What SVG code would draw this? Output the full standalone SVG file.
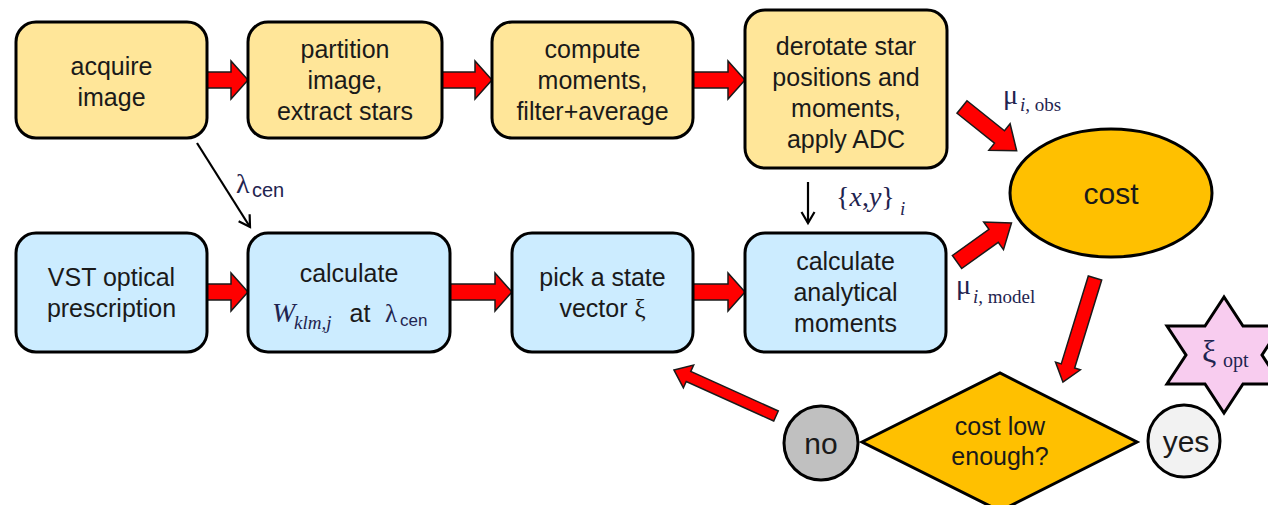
<svg xmlns="http://www.w3.org/2000/svg" width="1268" height="505" viewBox="0 0 1268 505">
<defs>
<marker id="open" markerWidth="16" markerHeight="16" refX="13" refY="8" orient="auto" markerUnits="userSpaceOnUse">
<path d="M2,1.5 L13,8 L2,14.5" fill="none" stroke="#000" stroke-width="2.2"/>
</marker>
</defs>
<style>
.yb{fill:#FFE699;stroke:#000;stroke-width:3}
.bb{fill:#CCECFF;stroke:#000;stroke-width:3}
.t{font-family:"Liberation Sans",Arial,sans-serif;font-size:25px;fill:#1a1a1a;text-anchor:middle}
.big{font-family:"Liberation Sans",Arial,sans-serif;font-size:30px;fill:#1a1a1a;text-anchor:middle}
.m{font-family:"Liberation Serif","Times New Roman",serif;fill:#1f2450}
.ms{font-family:"Liberation Sans",Arial,sans-serif;fill:#1f2450}
.ra{fill:#FF0000;stroke:#1a1a1a;stroke-width:1.5;stroke-linejoin:miter}
.th{stroke:#000;stroke-width:2.2;fill:none}
</style>
<rect width="1268" height="505" fill="#fff"/>

<g id="connectors">
<polygon class="ra" points="207,72 231,72 231,61 248,80 231,99 231,88 207,88"/>
<polygon class="ra" points="442,72 475,72 475,61 492,80 475,99 475,88 442,88"/>
<polygon class="ra" points="693,72 728,72 728,61 745,80 728,99 728,88 693,88"/>
<polygon class="ra" points="207,284 231,284 231,273 248,292 231,311 231,300 207,300"/>
<polygon class="ra" points="450,284 495,284 495,273 512,292 495,311 495,300 450,300"/>
<polygon class="ra" points="693,284 728,284 728,273 745,292 728,311 728,300 693,300"/>
<polygon class="ra" transform="translate(962,107) rotate(38.66)" points="0,-8 48,-8 48,-17 70,0 48,17 48,8 0,8"/>
<polygon class="ra" transform="translate(957,262) rotate(-35.6)" points="0,-8 45,-8 45,-17 67,0 45,17 45,8 0,8"/>
<polygon class="ra" transform="translate(1095,278) rotate(107.1)" points="0,-7 92,-7 92,-13 109,0 92,13 92,7 0,7"/>
<polygon class="ra" transform="translate(776,416) rotate(-155.7)" points="0,-5.5 96,-5.5 96,-12.5 112,0 96,12.5 96,5.5 0,5.5"/>
<line class="th" x1="197" y1="143" x2="250" y2="227" marker-end="url(#open)"/>
<line class="th" x1="808" y1="182" x2="808" y2="223" marker-end="url(#open)"/>
<text class="m" x="236" y="193" font-size="28">λ</text><text class="ms" x="252" y="197" font-size="20">cen</text>
<text class="m" x="836" y="206" font-size="28">{<tspan font-style="italic">x</tspan>,<tspan font-style="italic">y</tspan>}</text><text class="m" x="900" y="215" font-size="19" font-style="italic">i</text>
<text class="m" x="1003" y="104" font-size="28">μ</text><text class="m" x="1020" y="111" font-size="19"><tspan font-style="italic">i</tspan>, obs</text>
<text class="m" x="956" y="294" font-size="28">μ</text><text class="m" x="973" y="303" font-size="19"><tspan font-style="italic">i</tspan>, model</text>
</g>

<g id="acquire">
<rect class="yb" x="16" y="22" width="191" height="116" rx="20"/>
<text class="t" x="111.5" y="75">acquire</text>
<text class="t" x="111.5" y="106">image</text>
</g>
<g id="partition">
<rect class="yb" x="248" y="22" width="194" height="116" rx="20"/>
<text class="t" x="345" y="58">partition</text>
<text class="t" x="345" y="89">image,</text>
<text class="t" x="345" y="120">extract stars</text>
</g>
<g id="compute">
<rect class="yb" x="492" y="22" width="201" height="116" rx="20"/>
<text class="t" x="592.5" y="58">compute</text>
<text class="t" x="592.5" y="89">moments,</text>
<text class="t" x="592.5" y="120">filter+average</text>
</g>
<g id="derotate">
<rect class="yb" x="745" y="10" width="202" height="158" rx="20"/>
<text class="t" x="846" y="55">derotate star</text>
<text class="t" x="846" y="86">positions and</text>
<text class="t" x="846" y="117">moments,</text>
<text class="t" x="846" y="148">apply ADC</text>
</g>
<g id="vst">
<rect class="bb" x="16" y="233" width="191" height="119" rx="20"/>
<text class="t" x="111.5" y="286">VST optical</text>
<text class="t" x="111.5" y="317">prescription</text>
</g>
<g id="calcW">
<rect class="bb" x="248" y="233" width="202" height="119" rx="20"/>
<text class="t" x="349" y="282">calculate</text>
<text class="m" x="272" y="322" font-size="28" font-style="italic">W</text>
<text class="m" x="294" y="329" font-size="19" font-style="italic">klm,j</text>
<text class="t" x="360" y="322">at</text>
<text class="m" x="385" y="322" font-size="25">λ</text>
<text class="ms" x="400" y="326" font-size="17">cen</text>
</g>
<g id="pick">
<rect class="bb" x="512" y="233" width="181" height="119" rx="20"/>
<text class="t" x="602.5" y="286">pick a state</text>
<text class="t" x="602.5" y="317">vector <tspan font-family="Liberation Serif,serif">ξ</tspan></text>
</g>
<g id="analytical">
<rect class="bb" x="745" y="233" width="201" height="119" rx="20"/>
<text class="t" x="845.5" y="270">calculate</text>
<text class="t" x="845.5" y="301">analytical</text>
<text class="t" x="845.5" y="332">moments</text>
</g>
<g id="cost">
<ellipse cx="1111" cy="193" rx="101" ry="64" fill="#FFC000" stroke="#000" stroke-width="3"/>
<text class="big" x="1111" y="204">cost</text>
</g>
<g id="decision">
<polygon points="862,442 1000,373 1137,442 1000,511" fill="#FFC000" stroke="#000" stroke-width="3"/>
<text class="t" x="1000" y="435">cost low</text>
<text class="t" x="1000" y="465">enough?</text>
</g>
<g id="no">
<circle cx="821" cy="443" r="37" fill="#C0C0C0" stroke="#000" stroke-width="3"/>
<text class="big" x="821" y="454">no</text>
</g>
<g id="yes">
<circle cx="1184" cy="441" r="36" fill="#F2F2F2" stroke="#000" stroke-width="3"/>
<text class="big" x="1186" y="452">yes</text>
</g>
<g id="xiopt">
<polygon points="1224,297 1205,326 1167,326 1186,355 1167,384 1205,384 1224,413 1243,384 1281,384 1262,355 1281,326 1243,326" fill="#F8CCEF" stroke="#000" stroke-width="3"/>
<text class="m" x="1202" y="362" font-size="32">ξ</text>
<text class="m" x="1223" y="367" font-size="20">opt</text>
</g>
</svg>
